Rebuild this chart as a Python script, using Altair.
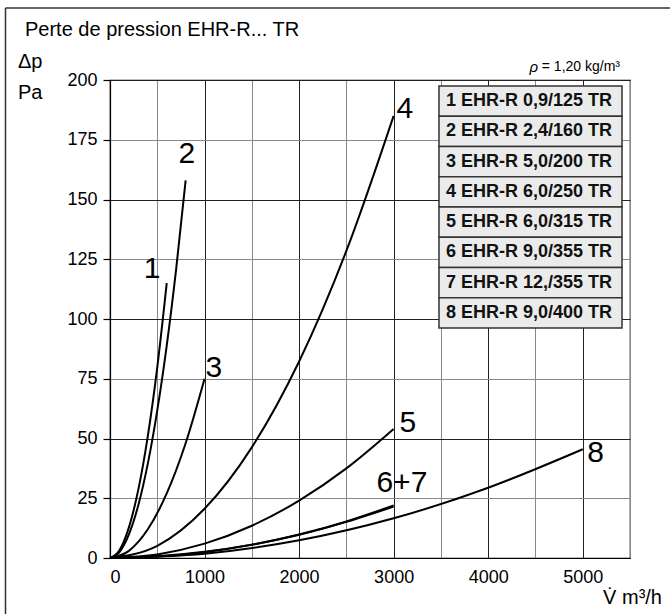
import altair as alt
import pandas as pd

# ---- data ----
c1_v = [0, 100, 200, 300, 400, 500, 600]
c1_p = [0, 3.2, 12.8, 28.7, 51, 79.8, 115]
c2_v = [0, 100, 200, 300, 400, 500, 600, 700, 800]
c2_p = [0, 2.5, 9.9, 22.2, 39.5, 61.8, 88.9, 121, 158]
c3_v = [0, 200, 400, 600, 800, 1000]
c3_p = [0, 3, 12, 27, 48, 75]
c4_v = [0, 500, 1000, 1500, 2000, 2500, 3000]
c4_p = [0, 5.1, 20.6, 46.3, 82.2, 128.5, 185]
c5_v = [0, 500, 1000, 1500, 2000, 2500, 3000]
c5_p = [0, 1.5, 6, 13.5, 24, 37.5, 54]
c6_v = [0, 500, 1000, 1500, 2000, 2500, 3000]
c6_p = [0, 0.6, 2.4, 5.5, 9.8, 15.3, 22]
c7_v = [0, 500, 1000, 1500, 2000, 2500, 3000]
c7_p = [0, 0.7, 2.6, 5.6, 9.7, 15.1, 21.5]
c8_v = [0, 1000, 2000, 3000, 4000, 5000]
c8_p = [0, 1.8, 7.4, 16.6, 29.4, 45.5]

curve_labels = ["1", "2", "3", "4", "5", "6+7", "8"]
curve_label_v = [444, 814, 1099, 3118, 3150, 3087, 5137]
curve_label_p = [121, 169, 79.5, 188, 56.5, 31.4, 44]

legend_names = [
    "1 EHR-R 0,9/125 TR",
    "2 EHR-R 2,4/160 TR",
    "3 EHR-R 5,0/200 TR",
    "4 EHR-R 6,0/250 TR",
    "5 EHR-R 6,0/315 TR",
    "6 EHR-R 9,0/355 TR",
    "7 EHR-R 12,/355 TR",
    "8 EHR-R 9,0/400 TR",
]

x_ticks = list(range(0, 5501, 500))
y_ticks = list(range(0, 201, 25))

# ---- build tables ----
rows = []
for sid, (vs, ps) in enumerate(
    [(c1_v, c1_p), (c2_v, c2_p), (c3_v, c3_p), (c4_v, c4_p),
     (c5_v, c5_p), (c6_v, c6_p), (c7_v, c7_p), (c8_v, c8_p)], start=1):
    for v, p in zip(vs, ps):
        rows.append({"s": str(sid), "V": v, "dp": p})
curves_df = pd.DataFrame(rows)
labels_df = pd.DataFrame({"lab": curve_labels, "V": curve_label_v, "dp": curve_label_p})
legend_df = pd.DataFrame({"name": legend_names})

FONT = "Liberation Sans"
W, H = 520, 478
PL, PT = 110, 80

xscale = alt.Scale(domain=[0, 5500], nice=False, zero=True)
yscale = alt.Scale(domain=[0, 200], nice=False)

xaxis = alt.Axis(
    values=x_ticks, title=None, ticks=False, labelFontSize=18, labelFont=FONT,
    labelColor="black", labelPadding=10, domainColor="black", domainWidth=1.2,
    labelExpr="datum.value % 1000 === 0 ? datum.label : ''",
    format="d",
    gridColor=alt.condition("datum.value % 1000 === 0", alt.value("#222"), alt.value("#888")),
    gridWidth=1, gridOpacity=1,
)
yaxis = alt.Axis(
    values=y_ticks, title=None, tickSize=7, tickColor="black", tickWidth=1.2,
    labelFontSize=18, labelFont=FONT, labelColor="black", labelPadding=6,
    domainColor="black", domainWidth=1.2,
    gridColor=alt.condition("datum.value % 50 === 0", alt.value("#222"), alt.value("#888")),
    gridWidth=1, gridOpacity=1,
)

curves = alt.Chart(curves_df).mark_line(
    color="black", strokeWidth=2, interpolate="monotone"
).encode(
    x=alt.X("V:Q", scale=xscale, axis=xaxis),
    y=alt.Y("dp:Q", scale=yscale, axis=yaxis),
    detail="s:N",
)

labels = alt.Chart(labels_df).mark_text(
    font=FONT, fontSize=30, color="black", align="center", baseline="middle"
).encode(
    x=alt.X("V:Q", scale=xscale),
    y=alt.Y("dp:Q", scale=yscale),
    text="lab:N",
)

one = alt.Data(values=[{"a": 1}])

def txt(s, x, y, size=18, align="left", style="normal", font=FONT):
    return alt.Chart(one).mark_text(
        text=s, font=font, fontSize=size, align=align, baseline="middle",
        color="black", fontStyle=style
    ).encode(x=alt.value(x), y=alt.value(y))

title = txt("Perte de pression EHR-R... TR", 25 - PL, 30 - PT, size=20)
dp_t = txt("\u0394p", 18 - PL, 62 - PT, size=20)
pa_t = txt("Pa", 18 - PL, 93 - PT, size=20)
rho1 = txt("\u03c1", 538 - PL, 67 - PT, size=15, align="right", style="italic")
rho2 = txt("= 1,20 kg/m\u00b3", 620 - PL, 67 - PT, size=14, align="right")
xt = txt("V\u0307 m\u00b3/h", 662 - PL, 598 - PT, size=20, align="right")

frame_left = alt.Chart(one).mark_rule(color="#333", strokeWidth=1.5).encode(
    x=alt.value(5.5 - PL), y=alt.value(8 - PT), y2=alt.value(614 - PT))
frame_top = alt.Chart(one).mark_rule(color="#333", strokeWidth=1.5).encode(
    x=alt.value(5.5 - PL), x2=alt.value(670 - PL), y=alt.value(8 - PT))

lscale = alt.Scale(domain=legend_names, range=[86 - PT, 328 - PT], paddingInner=0, paddingOuter=0)
leg_rect = alt.Chart(legend_df).mark_rect(
    fill="#ebebeb", stroke="#333", strokeWidth=1.5
).encode(
    y=alt.Y("name:N", scale=lscale, axis=None, sort=None),
    x=alt.value(439 - PL), x2=alt.value(622 - PL),
)
leg_text = alt.Chart(legend_df).mark_text(
    font=FONT, fontSize=18, fontWeight="bold", color="#111", align="left", baseline="middle"
).encode(
    y=alt.Y("name:N", scale=lscale, axis=None, sort=None),
    x=alt.value(446 - PL),
    text="name:N",
)

main = alt.layer(curves, labels)
legend = alt.layer(leg_rect, leg_text)

chart = alt.layer(
    main, legend, title, dp_t, pa_t, rho1, rho2, xt, frame_left, frame_top
).resolve_scale(y="independent").properties(
    width=W, height=H,
    autosize=alt.AutoSizeParams(type="none"),
    padding={"left": PL, "top": PT, "right": 670 - PL - W, "bottom": 614 - PT - H},
    background="white",
).configure_view(stroke="black", strokeWidth=1.2)

chart.save("out.html", embed_options={"renderer": "svg", "actions": False})
